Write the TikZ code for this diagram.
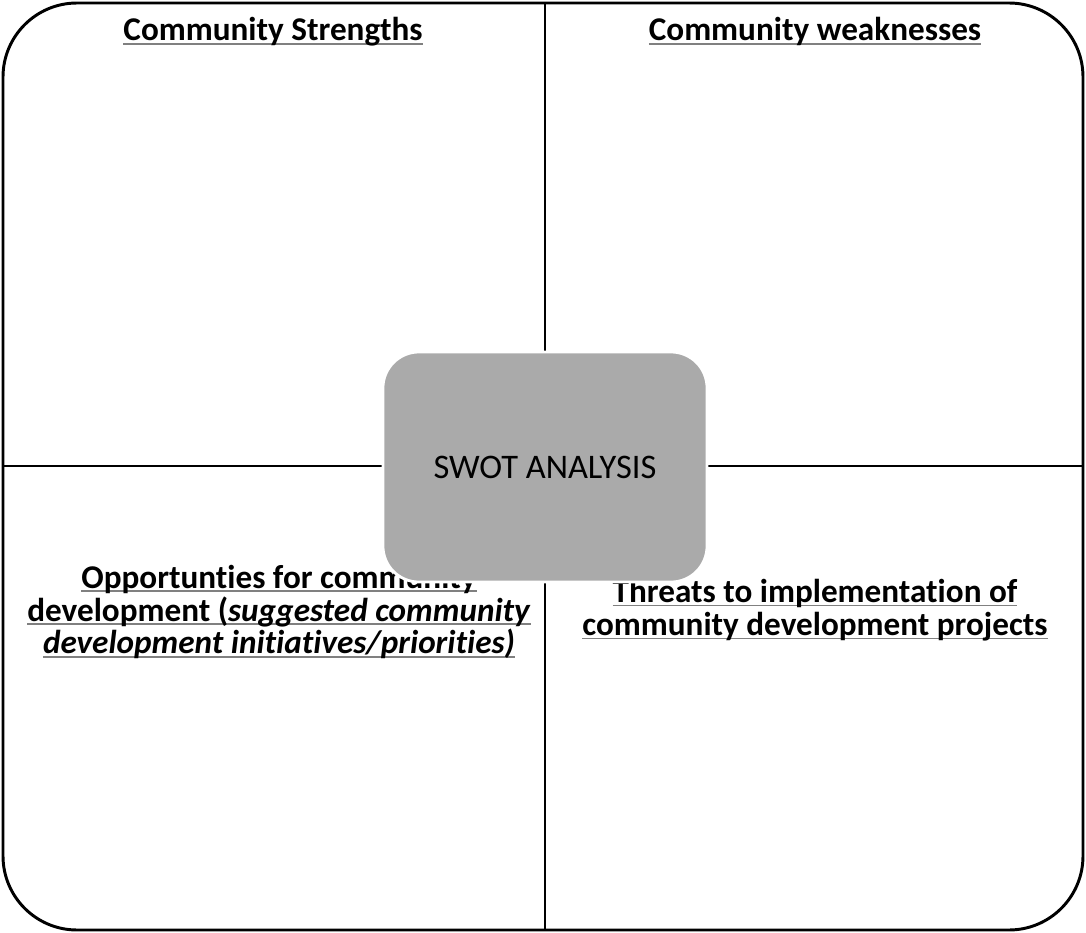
\documentclass[tikz,border=0pt]{standalone}
\usepackage{fontspec}
\setmainfont{Carlito}[Ligatures=NoCommon]
\usetikzlibrary{positioning}
\definecolor{swotgray}{HTML}{AAAAAA}
\newsavebox\ulbox
\newcommand\grayul[1]{\sbox\ulbox{#1}\rlap{\textcolor{gray}{\rule[-0.12em]{\wd\ulbox}{0.05em}}}\usebox\ulbox}
\begin{document}
\begin{tikzpicture}
    [x=0.025cm,y=-0.025cm,
     heading/.style={font=\bfseries\fontsize{23.6}{23.4}\selectfont,align=center,inner sep=0pt},
     frame/.style={line width=2.1pt,rounded corners=1.85cm},
     divider/.style={line width=1.4pt},
     swotbox/.style={fill=swotgray,draw=white,line width=2pt,rounded corners=0.9cm,
       minimum width=8.1cm,minimum height=5.75cm,font=\fontsize{24.5}{26}\selectfont}]
    \useasboundingbox (0,0) rectangle (1086,933);
    % quadrants
    \draw [frame] (3,3) rectangle (1083,930);
    \coordinate (top) at (545,3);
    \coordinate (bottom) at (545,930);
    \coordinate (left) at (3,466);
    \coordinate (right) at (1083,466);
    \draw [divider] (top) -- (bottom);
    \draw [divider] (left) -- (right);
    % headings
    \node (strengths) at (273,41) [heading,anchor=base] {\grayul{Community Strengths}};
    \node (weaknesses) at (815,41) [heading,anchor=base] {\grayul{Community weaknesses}};
    \node (opportunities) at (279,612) [heading]
      {\grayul{Opportunties for community}\\
       \grayul{development (\textit{suggested community}}\\
       \grayul{\textit{development initiatives/priorities)}}};
    \node (threats) at (815,610) [heading]
      {\grayul{Threats to implementation of}\\
       \grayul{community development projects}};
    % centre box
    \node (swot) at (545,467) [swotbox] {SWOT ANALYSIS};
\end{tikzpicture}
\end{document}
